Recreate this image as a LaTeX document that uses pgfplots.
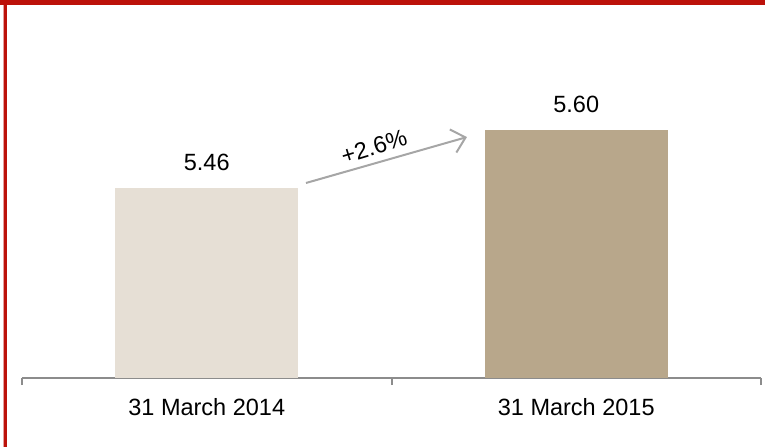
\documentclass[border=0pt]{standalone}
\usepackage{fontspec}
\setmainfont{Liberation Sans}
\usepackage{pgfplots}
\pgfplotsset{compat=1.18}
\usetikzlibrary{arrows.meta}
\definecolor{bordred}{HTML}{BC120A}
\definecolor{barA}{HTML}{E6DFD5}
\definecolor{barB}{HTML}{B8A78B}
\definecolor{axgray}{HTML}{8C8C8C}
\definecolor{arrgray}{HTML}{A6A6A6}
\begin{document}
\begin{tikzpicture}
\useasboundingbox (0,0) rectangle (765bp,447bp);
\fill[bordred] (0,442bp) rectangle (765bp,447bp);
\fill[bordred] (4bp,0) rectangle (7bp,447bp);
\fill[bordred!40] (3bp,0) rectangle (4bp,442bp);
\begin{axis}[
  at={(22bp,69bp)}, anchor=south west,
  scale only axis, width=739bp, height=358bp,
  xmin=-0.5, xmax=1.5, ymin=5, ymax=5.8647,
  axis x line*=bottom, axis y line=none,
  x axis line style={draw=axgray, line width=2bp, -},
  xtick={0,1}, xticklabels={31 March 2014, 31 March 2015},
  major tick length=0pt,
  minor xtick={-0.5,0.5,1.5},
  minor tick length=7bp, tick align=outside,
  minor tick style={draw=axgray, line width=2bp},
  xticklabel style={font=\fontsize{23.5bp}{28bp}\selectfont, anchor=base, yshift=-38bp, inner sep=0pt},
  ybar, bar width=183bp, bar shift=0pt,
  clip=false,
  nodes near coords,
  point meta=explicit symbolic,
  nodes near coords style={font=\fontsize{23.5bp}{28bp}\selectfont, anchor=base, yshift=17bp, inner sep=0pt},
]
\addplot[fill=barA, draw=none] coordinates {(0,5.46) [5.46]};
\addplot[fill=barB, draw=none] coordinates {(1,5.60) [5.60]};
\draw[arrgray, line width=2bp, -{Straight Barb[length=13bp,width=24bp,line width=2bp]}] (axis cs:0.2686,5.471) -- (axis cs:0.7043,5.582);
\node[rotate=17, font=\fontsize{23.5bp}{28bp}\selectfont, inner sep=0pt] at (axis cs:0.4526,5.558) {+2.6\%};
\end{axis}
\end{tikzpicture}
\end{document}
